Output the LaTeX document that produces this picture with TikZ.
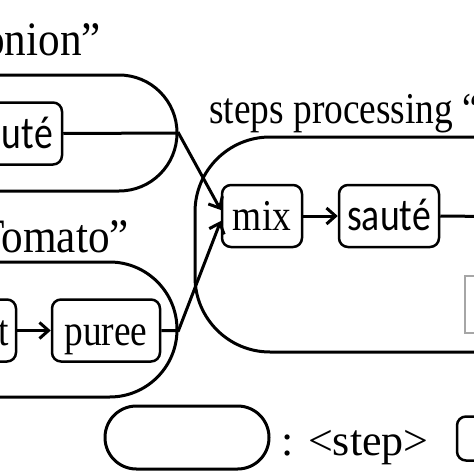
\documentclass[tikz,border=0pt]{standalone}
\usepackage{fontspec}
\setmainfont{Liberation Serif}
\newfontfamily\narrowserif{Liberation Serif}[FakeStretch=0.85]
\newfontfamily\titleserif{Liberation Serif}[FakeStretch=0.9]
\newfontfamily\narrowsans{Carlito}[FakeStretch=0.82]
\usetikzlibrary{arrows.meta,calc}
\tikzset{
  stepbox/.style={draw, line width=2.5pt, rounded corners=9pt, minimum height=62pt, inner xsep=0pt, inner ysep=0pt, text height=33pt, text depth=4pt},
  serifbox/.style={stepbox, font=\narrowserif\fontsize{44}{48}\selectfont},
  sansbox/.style={stepbox, font=\narrowsans\fontsize{46}{50}\selectfont},
  groupbox/.style={draw, line width=3pt, inner sep=0pt},
  titletext/.style={inner sep=0pt, font=\narrowserif\fontsize{44}{48}\selectfont},
  bigtitle/.style={inner sep=0pt, font=\titleserif\fontsize{48}{52}\selectfont},
  legendtext/.style={inner sep=0pt, font=\fontsize{44}{48}\selectfont},
  conn/.style={line width=3pt},
  arr/.style={conn, -{Straight Barb[length=9pt,width=16pt,line width=3pt]}}
}
\begin{document}
\begin{tikzpicture}[x=1pt,y=-1pt]
\useasboundingbox (0,0) rectangle (474,474);
\clip (0,0) rectangle (474,474);
% groups
\node[groupbox, minimum width=277pt, minimum height=116pt, rounded corners=57.9pt] (onion) at (38.5,133) {};
\node[groupbox, minimum width=277pt, minimum height=135pt, rounded corners=67.4pt] (tomato) at (38.5,329.5) {};
\node[groupbox, minimum width=505pt, minimum height=215pt, rounded corners=75pt] (steps) at (447.5,244.5) {};
% titles
\node[bigtitle, anchor=base east] (tonion) at (101,55) {onion”};
\node[bigtitle, anchor=base east] (ttomato) at (129,252) {Tomato”};
\node[titletext, anchor=base west] (tsteps) at (209,123) {steps processing “};
% steps
\node[sansbox, minimum width=102pt] (os) at (11,133.5) {sauté};
\node[serifbox, minimum width=66pt, text width=52pt, align=right, inner xsep=7pt] (cu) at (-17,330.5) {t};
\node[serifbox, minimum width=108pt] (pu) at (106,330.5) {puree};
\node[serifbox, minimum width=80pt] (mix) at (262,216) {mix};
\node[sansbox, minimum width=100pt] (s2) at (389,216) {sauté};
\node[draw=gray!70, line width=1.2pt, minimum width=95pt, minimum height=57pt] (gbox) at (512.5,304.5) {};
\coordinate (redge) at (490,216.5);
% connectors
\draw[arr] (os.east) -- (onion.east) -- ($(mix.west)+(0,-6)$);
\draw[arr] (pu.east) -- (pu.east -| tomato.east) -- ($(mix.west)+(0,5)$);
\draw[arr] (cu.east) -- (pu.west);
\draw[arr] (mix.east) -- (s2.west);
\draw[conn] (s2.east) -- (redge);
% legend
\node[groupbox, minimum width=164pt, minimum height=63pt, rounded corners=31.4pt] (lstep) at (187,437.5) {};
\node[legendtext, anchor=base west] (lsteptext) at (281,455) {: <step>};
\node[draw, line width=2.5pt, rounded corners=9pt, minimum width=103pt, minimum height=44pt] (lbox) at (508.5,438.5) {};
\end{tikzpicture}
\end{document}
